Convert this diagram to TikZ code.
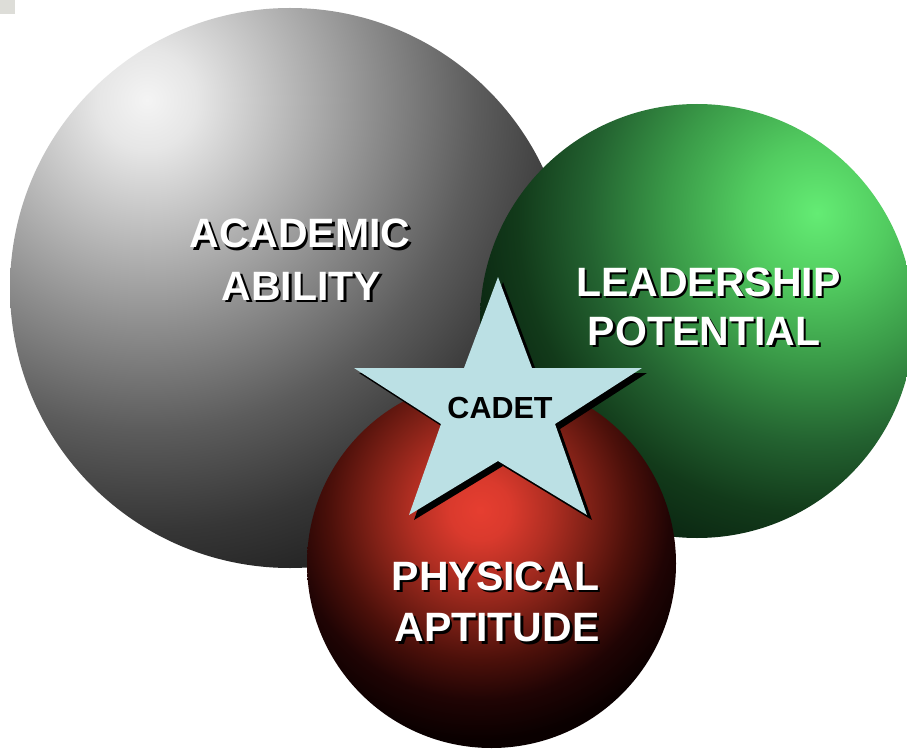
\documentclass[tikz,border=0pt]{standalone}
\usepackage{fontspec}
\setmainfont{Liberation Sans}
\definecolor{g0}{HTML}{F4F4F4}
\definecolor{g1}{HTML}{E6E6E6}
\definecolor{g2}{HTML}{BEBEBE}
\definecolor{g3}{HTML}{8C8C8C}
\definecolor{g4}{HTML}{5C5C5C}
\definecolor{g5}{HTML}{363636}
\definecolor{g6}{HTML}{1E1E1E}
\definecolor{g7}{HTML}{181818}
\definecolor{v0}{HTML}{64EC74}
\definecolor{v1}{HTML}{52CC60}
\definecolor{v2}{HTML}{3A9A48}
\definecolor{v3}{HTML}{236230}
\definecolor{v4}{HTML}{123A1A}
\definecolor{v5}{HTML}{092210}
\definecolor{v6}{HTML}{071C0D}
\definecolor{v7}{HTML}{061A0C}
\definecolor{r0}{HTML}{E63E30}
\definecolor{r1}{HTML}{DA3A2D}
\definecolor{r2}{HTML}{B02E22}
\definecolor{r3}{HTML}{7E2016}
\definecolor{r4}{HTML}{4C100A}
\definecolor{r5}{HTML}{200404}
\definecolor{r6}{HTML}{0A0000}
\definecolor{r7}{HTML}{050000}
\definecolor{starblue}{HTML}{BBE0E4}
\definecolor{cornergray}{HTML}{DDDDD8}
\pgfdeclareradialshading{grayball}{\pgfpoint{0bp}{0bp}}{color(0bp)=(g0); color(2.08bp)=(g1); color(5.42bp)=(g2); color(9.58bp)=(g3); color(13.75bp)=(g4); color(17.9bp)=(g5); color(21.7bp)=(g6); color(25bp)=(g7); color(50bp)=(g7)}
\pgfdeclareradialshading{greenball}{\pgfpoint{0bp}{0bp}}{color(0bp)=(v0); color(2.92bp)=(v1); color(6.25bp)=(v2); color(9.58bp)=(v3); color(12.5bp)=(v4); color(15.4bp)=(v5); color(18.75bp)=(v6); color(25bp)=(v7); color(50bp)=(v7)}
\pgfdeclareradialshading{redball}{\pgfpoint{0bp}{0bp}}{color(0bp)=(r0); color(1.25bp)=(r1); color(2.92bp)=(r2); color(4.58bp)=(r3); color(6.25bp)=(r4); color(7.92bp)=(r5); color(9.58bp)=(r6); color(25bp)=(r7); color(50bp)=(r7)}
\tikzset{
  lbl/.style={font=\fontsize{41}{48}\selectfont\bfseries, text=white, inner sep=0pt, anchor=base},
  lblsh/.style={lbl, text=black},
  cadetlbl/.style={font=\fontsize{30.5}{36}\selectfont\bfseries, text=black, inner sep=0pt, anchor=base},
  starshape/.style={fill=starblue},
  starshadow/.style={fill=black}
}
\begin{document}
\begin{tikzpicture}[x=1pt,y=-1pt]
\useasboundingbox (0,0) rectangle (907,751);
\fill[white] (0,0) rectangle (907,751);
\fill[cornergray] (0,0) rectangle (15,14);
% gray sphere
\begin{scope}
  \clip (290,288) circle (280);
  \shade[shading=grayball] (147,100) circle (600);
\end{scope}
% green sphere
\begin{scope}
  \clip (697,321) circle (217);
  \shade[shading=greenball] (817,213) circle (600);
\end{scope}
% red sphere
\begin{scope}
  \clip (491.5,563.5) circle (184.5);
  \shade[shading=redball] (480,510) circle (600);
\end{scope}
% star shadow and star
\path[starshadow, shift={(5,5)}] (498,277) -- (532,368) -- (642,368) -- (555,424) -- (587,515) -- (498,461) -- (409,515) -- (441,424) -- (354,368) -- (464,368) -- cycle;
\path[starshape] (498,277) -- (532,368) -- (642,368) -- (555,424) -- (587,515) -- (498,461) -- (409,515) -- (441,424) -- (354,368) -- (464,368) -- cycle;
% labels
\node[lblsh] (acadsh) at (302.5,250.5) {ACADEMIC};
\node[lbl] (acad) at (300,248) {ACADEMIC};
\node[lblsh] (abilsh) at (304,302.5) {ABILITY};
\node[lbl] (abil) at (301.5,300) {ABILITY};
\node[lblsh] (leadsh) at (711,298.5) {LEADERSHIP};
\node[lbl] (lead) at (708.5,296) {LEADERSHIP};
\node[lblsh] (potsh) at (706.5,347.5) {POTENTIAL};
\node[lbl] (pot) at (704,345) {POTENTIAL};
\node[lblsh] (physsh) at (498,592.5) {PHYSICAL};
\node[lbl] (phys) at (495.5,590) {PHYSICAL};
\node[lblsh] (aptsh) at (499.5,644) {APTITUDE};
\node[lbl] (apt) at (497,641.5) {APTITUDE};
\node[cadetlbl] (cadet) at (500,418) {CADET};
\end{tikzpicture}
\end{document}
